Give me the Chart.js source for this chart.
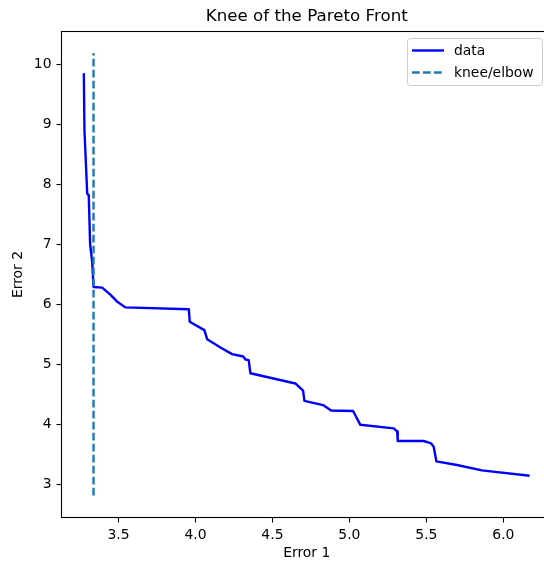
<!DOCTYPE html>
<html>
<head>
<meta charset="utf-8">
<script src="https://cdn.jsdelivr.net/npm/chart.js@4.4.1/dist/chart.umd.min.js"></script>
<style>
	html, body { margin: 0; padding: 0; background: #fff; overflow: hidden; }
	#kneeChart { display: block; }
</style>
</head>
<body>
<canvas id="kneeChart" width="560" height="565"></canvas>
<script>
// фронт Парето: пары ошибок
const errorOne = [3.275, 3.279, 3.297, 3.307, 3.316, 3.329, 3.338, 3.394, 3.449, 3.490,
	3.545, 3.957, 3.963, 4.058, 4.076, 4.162, 4.238, 4.310, 4.325, 4.346,
	4.357, 4.649, 4.699, 4.708, 4.829, 4.881, 5.024, 5.071, 5.288, 5.310,
	5.314, 5.483, 5.531, 5.548, 5.565, 5.699, 5.860, 6.171];
const errorTwo = [9.86, 8.91, 7.85, 7.82, 7.00, 6.72, 6.29, 6.28, 6.16, 6.05,
	5.95, 5.92, 5.71, 5.57, 5.42, 5.28, 5.17, 5.13, 5.08, 5.07,
	4.85, 4.68, 4.56, 4.39, 4.32, 4.23, 4.22, 3.99, 3.93, 3.88,
	3.72, 3.72, 3.68, 3.62, 3.38, 3.32, 3.23, 3.14];

// точка изгиба и пределы вертикальной линии
const kneeX = 3.338;
const kneeSpan = [2.81, 10.19];

// оси
const xTicks = [3.5, 4.0, 4.5, 5.0, 5.5, 6.0];
const yTicks = [3, 4, 5, 6, 7, 8, 9, 10];
const xRange = [3.13, 6.316];
const yRange = [2.443, 10.555];

const titleText = 'Knee of the Pareto Front';
const fontFamily = '"DejaVu Sans", sans-serif';
const tickFont = { family: fontFamily, size: 13.9 };

// рамка вокруг области графика и заголовок
const frameAndTitle = {
	id: 'frameAndTitle',
	afterDraw(chart) {
		const ctx = chart.ctx;
		const a = chart.chartArea;
		ctx.save();
		ctx.strokeStyle = '#000';
		ctx.lineWidth = 1.1;
		ctx.strokeRect(a.left, a.top, a.right - a.left, a.bottom - a.top);
		ctx.fillStyle = '#000';
		ctx.font = '16.7px ' + fontFamily;
		ctx.textAlign = 'center';
		ctx.textBaseline = 'alphabetic';
		ctx.fillText(titleText, (a.left + a.right) / 2, 21);
		ctx.restore();
	}
};

// легенда в правом верхнем углу
const legendBox = {
	id: 'legendBox',
	afterDatasetsDraw(chart) {
		const ctx = chart.ctx;
		const bx = 407.5, by = 38.5, bw = 135, bh = 47, r = 3;
		ctx.save();
		ctx.beginPath();
		ctx.moveTo(bx + r, by);
		ctx.arcTo(bx + bw, by, bx + bw, by + bh, r);
		ctx.arcTo(bx + bw, by + bh, bx, by + bh, r);
		ctx.arcTo(bx, by + bh, bx, by, r);
		ctx.arcTo(bx, by, bx + bw, by, r);
		ctx.closePath();
		ctx.fillStyle = 'rgba(255,255,255,0.8)';
		ctx.fill();
		ctx.strokeStyle = '#cccccc';
		ctx.lineWidth = 1;
		ctx.stroke();

		chart.data.datasets.forEach((ds, i) => {
			const y = 50.5 + i * 22;
			ctx.beginPath();
			ctx.setLineDash(ds.borderDash || []);
			ctx.strokeStyle = ds.borderColor;
			ctx.lineWidth = ds.borderWidth;
			ctx.moveTo(412, y);
			ctx.lineTo(444, y);
			ctx.stroke();
			ctx.setLineDash([]);
			ctx.fillStyle = '#000';
			ctx.font = '13.9px ' + fontFamily;
			ctx.textAlign = 'left';
			ctx.textBaseline = 'middle';
			ctx.fillText(ds.label, 454, y + 0.5);
		});
		ctx.restore();
	}
};

const ctx = document.getElementById('kneeChart');

let options = {
	type: 'line',
	data: {
		datasets: [{
			label: 'data',
			data: errorOne.map((x, i) => ({ x: x, y: errorTwo[i] })),
			borderColor: '#0000ff',
			borderWidth: 2.4,
			borderJoinStyle: 'round',
			pointRadius: 0,
			tension: 0,
			order: 1
		}, {
			label: 'knee/elbow',
			data: [{ x: kneeX, y: kneeSpan[0] }, { x: kneeX, y: kneeSpan[1] }],
			borderColor: '#1f77b4',
			borderWidth: 2.4,
			borderDash: [7.7, 3.3],
			pointRadius: 0,
			order: 0
		}]
	},
	options: {
		responsive: false,
		animation: false,
		devicePixelRatio: 1,
		layout: { padding: { top: 31.5, right: 8, left: 0, bottom: 0 } },
		plugins: {
			legend: { display: false },
			tooltip: { enabled: false }
		},
		scales: {
			x: {
				type: 'linear',
				min: xRange[0],
				max: xRange[1],
				afterBuildTicks: axis => { axis.ticks = xTicks.map(v => ({ value: v })); },
				afterFit: axis => { axis.height = 47.5; },
				ticks: {
					callback: v => v.toFixed(1),
					color: '#000',
					font: tickFont,
					padding: 5,
					maxRotation: 0,
					autoSkip: false
				},
				grid: { drawOnChartArea: false, drawTicks: true, tickLength: 5, tickWidth: 1.1, tickColor: '#000' },
				border: { display: false },
				title: { display: true, text: 'Error 1', color: '#000', font: tickFont, padding: { top: 0, bottom: 3 } }
			},
			y: {
				type: 'linear',
				min: yRange[0],
				max: yRange[1],
				afterBuildTicks: axis => { axis.ticks = yTicks.map(v => ({ value: v })); },
				afterFit: axis => { axis.width = 61.5; },
				ticks: {
					callback: v => String(v),
					color: '#000',
					font: tickFont,
					padding: 5,
					autoSkip: false
				},
				grid: { drawOnChartArea: false, drawTicks: true, tickLength: 5, tickWidth: 1.1, tickColor: '#000' },
				border: { display: false },
				title: { display: true, text: 'Error 2', color: '#000', font: tickFont, padding: { top: 10, bottom: 0 } }
			}
		}
	},
	plugins: [legendBox, frameAndTitle]
};

let kneeChart = new Chart(ctx, options);
</script>
</body>
</html>
